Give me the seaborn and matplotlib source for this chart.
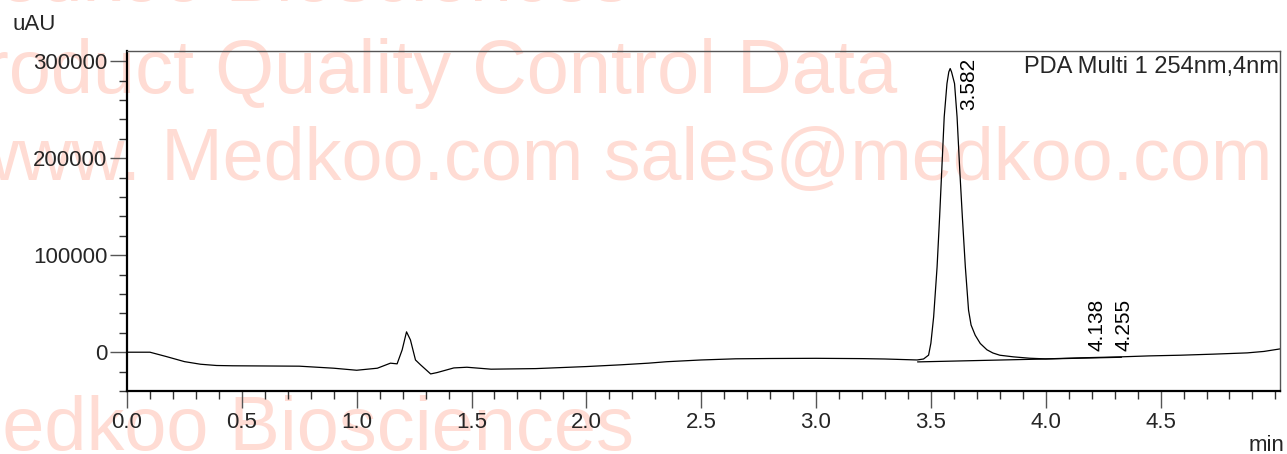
import numpy as np
import pandas as pd
import matplotlib
matplotlib.use("Agg")
import matplotlib.pyplot as plt
from matplotlib.ticker import MultipleLocator, FixedLocator
import seaborn as sns

# chromatogram trace (min, uAU)
time_min = [0.00, 0.10, 0.17, 0.25, 0.32, 0.39, 0.46, 0.75, 0.90, 1.00,
            1.09, 1.147, 1.176, 1.198, 1.217, 1.234, 1.256, 1.278, 1.322, 1.35,
            1.423, 1.48, 1.585, 1.78, 2.00, 2.15, 2.27, 2.35, 2.50, 2.65,
            2.80, 3.00, 3.20, 3.30, 3.44, 3.468, 3.49, 3.50, 3.512, 3.527,
            3.538, 3.548, 3.558, 3.570, 3.578, 3.584, 3.590, 3.603, 3.614, 3.625,
            3.637, 3.65, 3.664, 3.675, 3.693, 3.715, 3.744, 3.77, 3.80, 3.86,
            3.93, 4.00, 4.15, 4.325, 4.45, 4.586, 4.73, 4.877, 4.95, 5.02]
signal_uau = [0, 0, -4400, -9700, -12400, -13700, -14000, -14400, -16500, -18600,
              -16500, -11300, -12000, 2400, 21000, 12700, -8000, -13000, -22400, -21000,
              -16200, -15500, -17500, -16900, -14800, -13000, -11300, -9800, -8000, -6800,
              -6500, -6300, -6600, -7000, -8000, -7000, -3000, 9300, 36400, 88000,
              139500, 191000, 242600, 277000, 289000, 292500, 289000, 277000, 242600, 191000,
              139500, 88000, 43300, 28000, 17500, 9000, 2500, -800, -3100, -4800,
              -6200, -6900, -5800, -4800, -3800, -3100, -2000, -700, 800, 3400]

# integration baseline under the main peak
base_time = [3.442, 4.33]
base_uau = [-10000, -5200]

# peak labels
peak_rt = [3.582, 4.138, 4.255]
peak_label_y = [250000, 1500, 1500]

watermark_color = "#ffdcd4"

sns.set_style("ticks")
plt.rcParams["font.family"] = ["Liberation Sans", "DejaVu Sans"]

fig = plt.figure(figsize=(12.87, 4.54), dpi=100, facecolor="white")
W, H = 1287, 454

# watermark text behind the chart: text, right end, baseline, size
wm = [("Medkoo Biosciences", 630, 1, 54.5),
      ("Product Quality Control Data", 897, 93, 54.5),
      ("www. Medkoo.com sales@medkoo.com", 1272, 180, 53),
      ("Medkoo Biosciences", 634, 450, 54.5)]
for txt, xr, yb, fs in wm:
    fig.text(xr / W, 1 - yb / H, txt, ha="right", va="baseline",
             fontsize=fs, color=watermark_color, zorder=-5)

ax = fig.add_axes([127 / W, 1 - 391 / H, (1280 - 127) / W, (391 - 51) / H])
ax.set_facecolor("none")

trace = pd.DataFrame({"time": time_min, "signal": signal_uau})
sns.lineplot(data=trace, x="time", y="signal", color="black", lw=0.9, ax=ax)
ax.plot(base_time, base_uau, color="black", lw=0.9)

for rt, ly in zip(peak_rt, peak_label_y):
    ax.text(rt + 0.085, ly, f"{rt:.3f}", rotation=90, ha="center", va="bottom",
            fontsize=15, color="black")

ax.set_xlim(0, 5.02)
ax.set_ylim(-40000, 310600)
ax.xaxis.set_major_locator(FixedLocator(np.arange(0, 4.6, 0.5)))
ax.xaxis.set_minor_locator(MultipleLocator(0.1))
ax.xaxis.set_major_formatter(plt.FuncFormatter(lambda v, p: f"{v:.1f}"))
ax.yaxis.set_major_locator(FixedLocator([0, 100000, 200000, 300000]))
ax.yaxis.set_minor_locator(MultipleLocator(20000))
ax.yaxis.set_major_formatter(plt.FuncFormatter(lambda v, p: f"{int(v)}"))

ax.set_xlabel("")
ax.set_ylabel("")
ax.tick_params(axis="both", which="major", labelsize=16, color="#555555", width=1, pad=2)
ax.tick_params(axis="x", which="major", length=12, pad=3)
ax.tick_params(axis="y", which="major", length=12)
ax.tick_params(axis="both", which="minor", length=6, color="#333333", width=1)

for side in ["left", "bottom"]:
    ax.spines[side].set_color("black")
    ax.spines[side].set_linewidth(1.6)
for side in ["top", "right"]:
    ax.spines[side].set_visible(True)
    ax.spines[side].set_color("#555555")
    ax.spines[side].set_linewidth(1.0)

fig.text(12 / W, 1 - 30 / H, "uAU", ha="left", va="baseline", fontsize=16)
fig.text(1284 / W, 1 - 451 / H, "min", ha="right", va="baseline", fontsize=16)
ax.text(0.999, 0.985, "PDA Multi 1 254nm,4nm", transform=ax.transAxes,
        ha="right", va="top", fontsize=17)

fig.savefig("out.png", dpi=100, facecolor="white")
